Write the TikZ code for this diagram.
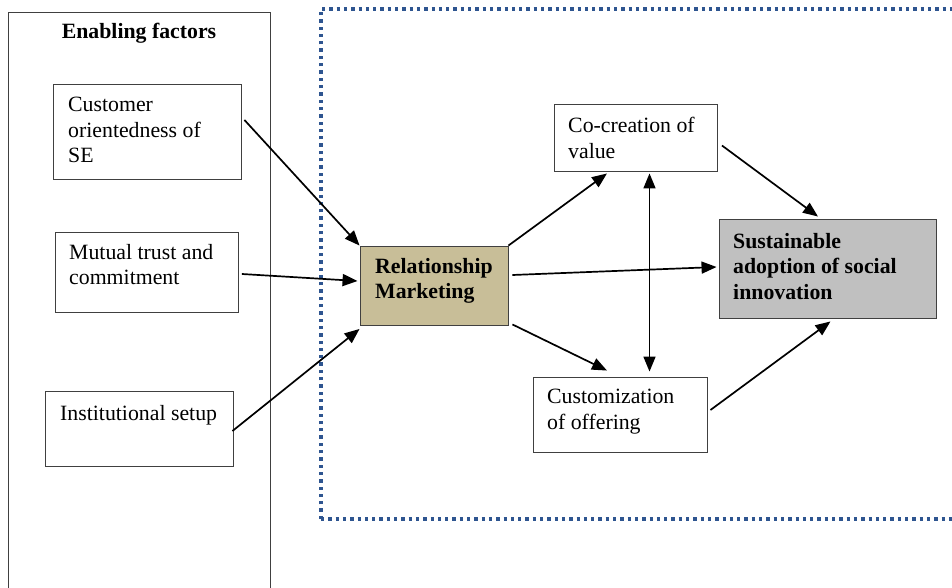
\documentclass[tikz,border=0pt]{standalone}
\usepackage{fontspec}
\setmainfont{Liberation Serif}
\usetikzlibrary{arrows.meta,calc}
\definecolor{framegray}{HTML}{404040}
\definecolor{dotblue}{HTML}{2E5590}
\definecolor{rmtan}{HTML}{C8BE98}
\definecolor{outgray}{HTML}{C0C0C0}
\tikzset{
  box/.style={draw=framegray,line width=0.9pt,rectangle,inner sep=0pt},
  label/.style={anchor=north west,inner sep=0pt,align=left,
    font=\fontsize{21.8}{25.5}\selectfont},
  boldlabel/.style={label,font=\fontsize{21.8}{25.5}\selectfont\bfseries},
  arr/.style={line width=1.7pt,-{Triangle[length=15pt,width=12pt]}},
  dblarr/.style={line width=1.7pt,{Triangle[length=15pt,width=12pt]}-{Triangle[length=15pt,width=12pt]}}
}
\begin{document}
\begin{tikzpicture}[x=1pt,y=-1pt]
\useasboundingbox (0,0) rectangle (952,588);
\clip (0,0) rectangle (952,588);
\fill[white] (0,0) rectangle (952,588);

% enabling factors panel
\draw[draw=framegray,line width=0.9pt] (8,12) rectangle (270,600);
\node[anchor=center,inner sep=0pt,font=\fontsize{21.8}{25.5}\selectfont\bfseries] (title) at (139,33) {Enabling factors};

% dotted frame around the relationship marketing model
\draw[dotblue,line width=3.3pt,dash pattern=on 3.3pt off 4pt] (321,519) -- (321,9) -- (960,9);
\draw[dotblue,line width=3.3pt,dash pattern=on 3.3pt off 4pt] (321,519) -- (960,519);

% boxes
\node[box,minimum width=188pt,minimum height=95pt] (cust) at (147,131.5) {};
\node[box,minimum width=183pt,minimum height=80pt] (trust) at (146.5,272) {};
\node[box,minimum width=188pt,minimum height=75pt] (inst) at (139,428.5) {};
\node[box,fill=rmtan,minimum width=148pt,minimum height=79pt] (rm) at (434,285.5) {};
\node[box,minimum width=163pt,minimum height=67pt] (cocr) at (635.5,137.5) {};
\node[box,minimum width=174pt,minimum height=75pt] (cstm) at (620,414.5) {};
\node[box,fill=outgray,minimum width=217pt,minimum height=99pt] (sust) at (827.5,268.5) {};

% labels
\node[label] (custT) at (68,97) {Customer\\orientedness of\\SE};
\node[label] (trustT) at (69,244) {Mutual trust and\\commitment};
\node[label] (instT) at (60,405) {Institutional setup};
\node[boldlabel] (rmT) at (375,258) {Relationship\\Marketing};
\node[label] (cocrT) at (568,117) {Co-creation of\\value};
\node[label] (cstmT) at (547,389) {Customization\\of offering};
\node[boldlabel] (sustT) at (733,233) {Sustainable\\adoption of social\\innovation};

% connectors
\draw[arr] ($(cust.east)+(3,-11.5)$) -- (rm.north west);
\draw[arr] ($(trust.east)+(3.5,2)$) -- ($(rm.west)+(-2,-4.5)$);
\draw[arr] ($(inst.east)+(-1,2.5)$) -- ($(rm.south west)+(0,3.5)$);
\draw[arr] (rm.north east) -- ($(cocr.south)+(-28.5,2)$);
\draw[arr] ($(rm.south east)+(4,-1)$) -- ($(cstm.north)+(-13,-6)$);
\draw[arr] ($(rm.east)+(4,-10.5)$) -- ($(sust.west)+(-2,-1.5)$);
\draw[dblarr] ($(cocr.south)+(14,2)$) -- ($(cstm.north)+(29.5,-5)$);
\draw[arr] ($(cocr.east)+(4.5,8)$) -- ($(sust.north)+(-9.5,-2)$);
\draw[arr] ($(cstm.east)+(3,-4.5)$) -- ($(sust.south)+(3,3)$);
\end{tikzpicture}
\end{document}
